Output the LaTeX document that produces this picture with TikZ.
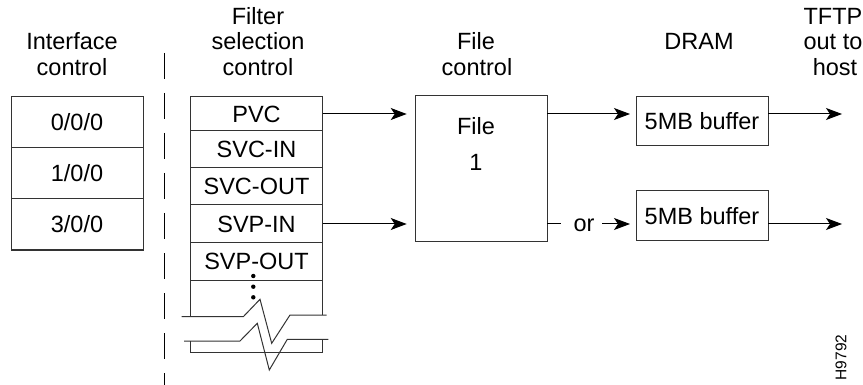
\documentclass[tikz,border=0pt]{standalone}
\usepackage{fontspec}
\setmainfont{Liberation Sans}
\usetikzlibrary{arrows.meta}
\begin{document}
\begin{tikzpicture}[x=1pt,y=-1pt,
  every node/.style={font=\fontsize{23.5}{26}\selectfont, inner sep=0pt, outer sep=0pt},
  ln/.style={line width=1pt, draw=black!80},
  cell/.style={ln, draw, rectangle, minimum width=132pt},
  hdr/.style={anchor=base},
  arr/.style={line width=1pt, draw=black, -{Stealth[length=16pt,width=12pt,inset=4pt]}},
  dot/.style={circle, fill=black, minimum size=4.4pt}
]
\useasboundingbox (0,0) rectangle (863,385);

% headers
\node[hdr] (h1a) at (72,49.5) {Interface};
\node[hdr] (h1b) at (72,75.5) {control};
\node[hdr] (h2a) at (258,25) {Filter};
\node[hdr] (h2b) at (258,49.5) {selection};
\node[hdr] (h2c) at (258,75.5) {control};
\node[hdr] (h3a) at (476,50) {File};
\node[hdr] (h3b) at (477,76) {control};
\node[hdr] (h4a) at (699,50) {DRAM};
\node[hdr] (h5a) at (833,25) {TFTP};
\node[hdr] (h5b) at (833,50) {out to};
\node[hdr] (h5c) at (835,76) {host};

% dashed separator
\coordinate (dtop) at (164.5,53);
\coordinate (dbot) at (164.5,385);
\draw[line width=1pt, dash pattern=on 26pt off 14pt] (dtop) -- (dbot);

% interface control boxes
\node[cell, minimum height=51pt] (i0) at (77,122.5) {0/0/0};
\node[cell, minimum height=51pt] (i1) at (77,173.5) {1/0/0};
\node[cell, minimum height=51pt] (i3) at (77,224.5) {3/0/0};

% filter selection boxes
\node[cell, minimum height=34pt] (pvc) at (256.5,114) {PVC};
\node[cell, minimum height=37pt] (svcin) at (256.5,149.5) {SVC-IN};
\node[cell, minimum height=37pt] (svcout) at (256.5,186.5) {SVC-OUT};
\node[cell, minimum height=38pt] (svpin) at (256.5,224) {SVP-IN};
\node[cell, minimum height=37pt] (svpout) at (256.5,261.5) {SVP-OUT};

% open continuation with break
\draw[ln] (svpout.south west) -- (190.5,316.7);
\draw[ln] (svpout.south east) -- (322.5,315);
\draw[ln] (181.7,316.7) -- (243.3,316.7) -- (260,299.3) -- (271.7,343.3) -- (290,315) -- (326.7,315);
\draw[ln] (184,341) -- (240,341) -- (257.3,323.3) -- (269.3,370) -- (287.3,339.3) -- (328.3,339.3);
\draw[ln] (190.5,341) -- (190.5,352.5) -- (322.5,352.5) -- (322.5,339.3);
\node[dot] (d1) at (253.3,276) {};
\node[dot] (d2) at (253.3,286.7) {};
\node[dot] (d3) at (253.3,297.3) {};

% file control
\node[cell, minimum height=146pt] (file) at (481,169) {};
\node[hdr] (filet) at (476,135) {File};
\node[hdr] (file1) at (476,171) {1};

% DRAM buffers
\node[cell, minimum height=49pt] (buf1) at (702,121.5) {5MB buffer};
\node[cell, minimum height=50pt] (buf2) at (702,216) {5MB buffer};

% outputs
\coordinate (out1) at (842,114);
\coordinate (out2) at (842,224);
\coordinate (orl) at (561,224);
\coordinate (orr) at (602,224);
\node[anchor=base] (or) at (584,231.5) {or};

% connectors
\draw[arr, shorten >=8.3pt] (pvc.east) -- (file.west |- pvc.east);
\draw[arr, shorten >=8.3pt] (svpin.east) -- (file.west |- svpin.east);
\draw[arr, shorten >=6pt] (file.east |- pvc.east) -- (buf1.west |- pvc.east);
\draw[line width=1pt] (file.east |- svpin.east) -- (orl);
\draw[arr, shorten >=6pt] (orr) -- (buf2.west |- orr);
\draw[arr] (buf1.east |- out1) -- (out1);
\draw[arr] (buf2.east |- out2) -- (out2);

% figure id
\node[rotate=90, font=\fontsize{15.5}{18}\selectfont] (hid) at (841,357.5) {H9792};
\end{tikzpicture}
\end{document}
